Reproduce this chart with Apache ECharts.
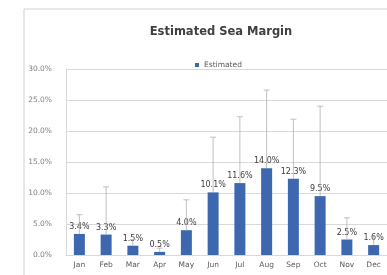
<!DOCTYPE html>
<html>
<head>
<meta charset="utf-8">
<script src="https://cdn.jsdelivr.net/npm/echarts@6/dist/echarts.min.js"></script>
<style>
  html, body { margin: 0; padding: 0; background: #fff; }
  #main { width: 387px; height: 275px; }
</style>
</head>
<body>
<div id="main"></div>
<script>
// values (percent)
const months = ['Jan', 'Feb', 'Mar', 'Apr', 'May', 'Jun', 'Jul', 'Aug', 'Sep', 'Oct', 'Nov', 'Dec']
const estimated = [3.4, 3.3, 1.5, 0.5, 4.0, 10.1, 11.6, 14.0, 12.3, 9.5, 2.5, 1.6]
// upper end of each error bar
const errorHigh = [6.5, 11.0, 2.5, 1.1, 8.9, 19.0, 22.3, 26.6, 21.9, 24.0, 6.0, 3.0]
const yTicks = [0, 5, 10, 15, 20, 25, 30]

const chart = echarts.init(document.getElementById('main'))

const option = {
  animation: false,
  textStyle: { fontFamily: 'Verdana, DejaVu Sans, sans-serif' },
  graphic: [
    {
      type: 'rect',
      shape: { x: 24, y: 9, width: 400, height: 300 },
      style: { fill: 'none', stroke: '#d0d0d0', lineWidth: 1 },
      z: -1,
    },
  ],
  title: {
    text: 'Estimated Sea Margin',
    left: 216,
    textAlign: 'center',
    top: 21,
    textStyle: { fontSize: 11.5, fontWeight: 'bold', color: '#404040' },
  },
  legend: {
    data: ['Estimated'],
    left: 190,
    top: 56,
    itemWidth: 4,
    itemHeight: 4,
    itemGap: 3,
    textStyle: { fontSize: 7.5, color: '#595959' },
    icon: 'rect',
    selectedMode: false,
  },
  grid: { left: 66, right: -7, top: 69, bottom: 20 },
  xAxis: {
    type: 'category',
    data: months,
    axisTick: { show: false },
    axisLine: { lineStyle: { color: '#d9d9d9' } },
    axisLabel: { fontSize: 7.5, color: '#595959', margin: 6, interval: 0 },
  },
  yAxis: {
    type: 'value',
    min: yTicks[0],
    max: yTicks[yTicks.length - 1],
    interval: 5,
    axisLine: { show: true, lineStyle: { color: '#d9d9d9' } },
    axisLabel: {
      fontSize: 7.5,
      color: '#7f7f7f',
      margin: 14,
      formatter: (v) => v.toFixed(1) + '%',
    },
    splitLine: { lineStyle: { color: '#d9d9d9' } },
  },
  series: [
    {
      name: 'Estimated',
      type: 'bar',
      data: estimated,
      barWidth: 11,
      itemStyle: { color: '#3d68b0' },
      label: {
        show: true,
        position: 'top',
        distance: 3,
        fontSize: 8,
        color: '#404040',
        formatter: (p) => p.value.toFixed(1) + '%',
      },
      z: 2,
    },
    {
      type: 'custom',
      name: 'err',
      data: estimated.map((v, i) => [i, v, errorHigh[i]]),
      z: 3,
      renderItem: (params, api) => {
        const low = api.coord([api.value(0), api.value(1)])
        const high = api.coord([api.value(0), api.value(2)])
        const cap = 3
        const style = { stroke: '#b0b0b0', lineWidth: 0.8 }
        return {
          type: 'group',
          children: [
            { type: 'line', shape: { x1: low[0], y1: low[1], x2: high[0], y2: high[1] }, style },
            { type: 'line', shape: { x1: high[0] - cap, y1: high[1], x2: high[0] + cap, y2: high[1] }, style },
          ],
        }
      },
    },
  ],
}

chart.setOption(option)
</script>
</body>
</html>
